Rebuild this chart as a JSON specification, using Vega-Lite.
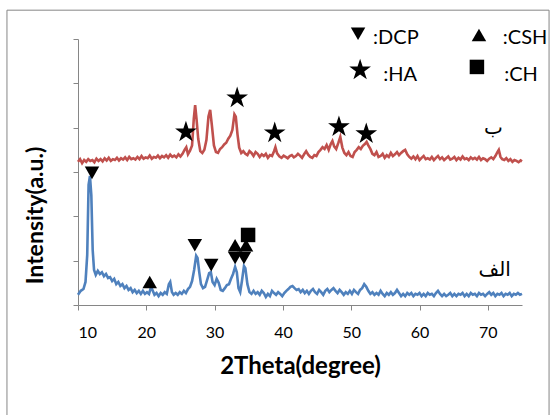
{
  "$schema": "https://vega.github.io/schema/vega-lite/v6.json",
  "width": 444,
  "height": 266,
  "autosize": "none",
  "padding": {"left": 78, "top": 39, "right": 36, "bottom": 110},
  "background": "white",
  "config": {"view": {"stroke": null}, "font": "Lato"},
  "datasets": {
    "sample_alef": [
      {"theta":10.0,"intensity":0.23},{"theta":10.4,"intensity":0.32},{"theta":10.8,"intensity":0.36},{"theta":11.1,"intensity":0.52},{"theta":11.35,"intensity":1.13},{"theta":11.55,"intensity":2.71},{"theta":11.75,"intensity":2.91},{"theta":11.95,"intensity":2.48},{"theta":12.15,"intensity":1.24},{"theta":12.35,"intensity":0.79},{"theta":12.6,"intensity":0.68},{"theta":12.9,"intensity":0.77},{"theta":13.2,"intensity":0.70},{"theta":13.5,"intensity":0.74},{"theta":13.8,"intensity":0.65},{"theta":14.1,"intensity":0.70},{"theta":14.4,"intensity":0.61},{"theta":14.7,"intensity":0.63},{"theta":15.0,"intensity":0.54},{"theta":15.3,"intensity":0.59},{"theta":15.6,"intensity":0.47},{"theta":15.9,"intensity":0.52},{"theta":16.2,"intensity":0.43},{"theta":16.5,"intensity":0.47},{"theta":16.8,"intensity":0.38},{"theta":17.1,"intensity":0.43},{"theta":17.4,"intensity":0.34},{"theta":17.7,"intensity":0.38},{"theta":18.0,"intensity":0.29},{"theta":18.3,"intensity":0.34},{"theta":18.6,"intensity":0.27},{"theta":18.9,"intensity":0.32},{"theta":19.2,"intensity":0.25},{"theta":19.5,"intensity":0.32},{"theta":19.8,"intensity":0.25},{"theta":20.1,"intensity":0.29},{"theta":20.4,"intensity":0.25},{"theta":20.7,"intensity":0.41},{"theta":20.9,"intensity":0.34},{"theta":21.2,"intensity":0.23},{"theta":21.5,"intensity":0.27},{"theta":21.8,"intensity":0.20},{"theta":22.1,"intensity":0.27},{"theta":22.4,"intensity":0.23},{"theta":22.7,"intensity":0.29},{"theta":23.0,"intensity":0.25},{"theta":23.3,"intensity":0.47},{"theta":23.5,"intensity":0.52},{"theta":23.75,"intensity":0.29},{"theta":24.0,"intensity":0.23},{"theta":24.3,"intensity":0.27},{"theta":24.6,"intensity":0.23},{"theta":24.9,"intensity":0.29},{"theta":25.2,"intensity":0.25},{"theta":25.5,"intensity":0.32},{"theta":25.8,"intensity":0.27},{"theta":26.1,"intensity":0.36},{"theta":26.4,"intensity":0.41},{"theta":26.7,"intensity":0.54},{"theta":27.0,"intensity":0.79},{"theta":27.3,"intensity":1.11},{"theta":27.5,"intensity":1.06},{"theta":27.75,"intensity":0.74},{"theta":28.0,"intensity":0.47},{"theta":28.3,"intensity":0.38},{"theta":28.6,"intensity":0.41},{"theta":28.9,"intensity":0.56},{"theta":29.2,"intensity":0.72},{"theta":29.45,"intensity":0.74},{"theta":29.7,"intensity":0.52},{"theta":30.0,"intensity":0.45},{"theta":30.3,"intensity":0.59},{"theta":30.6,"intensity":0.50},{"theta":30.9,"intensity":0.34},{"theta":31.2,"intensity":0.32},{"theta":31.5,"intensity":0.38},{"theta":31.8,"intensity":0.45},{"theta":32.1,"intensity":0.47},{"theta":32.4,"intensity":0.59},{"theta":32.7,"intensity":0.70},{"theta":33.0,"intensity":0.86},{"theta":33.25,"intensity":0.74},{"theta":33.5,"intensity":0.38},{"theta":33.75,"intensity":0.29},{"theta":34.0,"intensity":0.54},{"theta":34.3,"intensity":0.88},{"theta":34.5,"intensity":0.83},{"theta":34.8,"intensity":0.47},{"theta":35.1,"intensity":0.29},{"theta":35.4,"intensity":0.25},{"theta":35.7,"intensity":0.32},{"theta":36.0,"intensity":0.25},{"theta":36.3,"intensity":0.29},{"theta":36.6,"intensity":0.23},{"theta":36.9,"intensity":0.32},{"theta":37.2,"intensity":0.27},{"theta":37.5,"intensity":0.18},{"theta":37.8,"intensity":0.25},{"theta":38.1,"intensity":0.20},{"theta":38.4,"intensity":0.32},{"theta":38.7,"intensity":0.27},{"theta":39.0,"intensity":0.23},{"theta":39.3,"intensity":0.29},{"theta":39.6,"intensity":0.25},{"theta":39.9,"intensity":0.20},{"theta":40.2,"intensity":0.27},{"theta":40.5,"intensity":0.32},{"theta":40.8,"intensity":0.36},{"theta":41.1,"intensity":0.41},{"theta":41.4,"intensity":0.43},{"theta":41.7,"intensity":0.38},{"theta":42.0,"intensity":0.34},{"theta":42.3,"intensity":0.36},{"theta":42.6,"intensity":0.29},{"theta":42.9,"intensity":0.34},{"theta":43.2,"intensity":0.27},{"theta":43.5,"intensity":0.32},{"theta":43.8,"intensity":0.25},{"theta":44.1,"intensity":0.32},{"theta":44.4,"intensity":0.36},{"theta":44.7,"intensity":0.29},{"theta":45.0,"intensity":0.25},{"theta":45.3,"intensity":0.34},{"theta":45.6,"intensity":0.29},{"theta":45.9,"intensity":0.23},{"theta":46.2,"intensity":0.32},{"theta":46.5,"intensity":0.36},{"theta":46.8,"intensity":0.29},{"theta":47.1,"intensity":0.34},{"theta":47.4,"intensity":0.38},{"theta":47.7,"intensity":0.32},{"theta":48.0,"intensity":0.27},{"theta":48.3,"intensity":0.34},{"theta":48.6,"intensity":0.29},{"theta":48.9,"intensity":0.23},{"theta":49.2,"intensity":0.29},{"theta":49.5,"intensity":0.25},{"theta":49.8,"intensity":0.32},{"theta":50.1,"intensity":0.25},{"theta":50.4,"intensity":0.34},{"theta":50.7,"intensity":0.29},{"theta":51.0,"intensity":0.25},{"theta":51.3,"intensity":0.34},{"theta":51.6,"intensity":0.38},{"theta":51.9,"intensity":0.47},{"theta":52.2,"intensity":0.41},{"theta":52.5,"intensity":0.32},{"theta":52.8,"intensity":0.25},{"theta":53.1,"intensity":0.29},{"theta":53.4,"intensity":0.23},{"theta":53.7,"intensity":0.27},{"theta":54.0,"intensity":0.23},{"theta":54.3,"intensity":0.32},{"theta":54.6,"intensity":0.25},{"theta":54.9,"intensity":0.20},{"theta":55.2,"intensity":0.27},{"theta":55.5,"intensity":0.23},{"theta":55.8,"intensity":0.29},{"theta":56.1,"intensity":0.23},{"theta":56.4,"intensity":0.27},{"theta":56.7,"intensity":0.34},{"theta":57.0,"intensity":0.27},{"theta":57.3,"intensity":0.20},{"theta":57.6,"intensity":0.25},{"theta":57.9,"intensity":0.20},{"theta":58.2,"intensity":0.27},{"theta":58.5,"intensity":0.23},{"theta":58.8,"intensity":0.27},{"theta":59.1,"intensity":0.20},{"theta":59.4,"intensity":0.25},{"theta":59.7,"intensity":0.23},{"theta":60.0,"intensity":0.27},{"theta":60.3,"intensity":0.20},{"theta":60.6,"intensity":0.25},{"theta":60.9,"intensity":0.20},{"theta":61.2,"intensity":0.27},{"theta":61.5,"intensity":0.23},{"theta":61.8,"intensity":0.25},{"theta":62.1,"intensity":0.20},{"theta":62.4,"intensity":0.27},{"theta":62.7,"intensity":0.32},{"theta":63.0,"intensity":0.25},{"theta":63.3,"intensity":0.20},{"theta":63.6,"intensity":0.25},{"theta":63.9,"intensity":0.20},{"theta":64.2,"intensity":0.23},{"theta":64.5,"intensity":0.27},{"theta":64.8,"intensity":0.20},{"theta":65.1,"intensity":0.25},{"theta":65.4,"intensity":0.20},{"theta":65.7,"intensity":0.25},{"theta":66.0,"intensity":0.23},{"theta":66.3,"intensity":0.27},{"theta":66.6,"intensity":0.20},{"theta":66.9,"intensity":0.25},{"theta":67.2,"intensity":0.20},{"theta":67.5,"intensity":0.27},{"theta":67.8,"intensity":0.23},{"theta":68.1,"intensity":0.25},{"theta":68.4,"intensity":0.20},{"theta":68.7,"intensity":0.27},{"theta":69.0,"intensity":0.23},{"theta":69.3,"intensity":0.25},{"theta":69.6,"intensity":0.20},{"theta":69.9,"intensity":0.25},{"theta":70.2,"intensity":0.29},{"theta":70.5,"intensity":0.23},{"theta":70.8,"intensity":0.27},{"theta":71.1,"intensity":0.20},{"theta":71.4,"intensity":0.25},{"theta":71.7,"intensity":0.23},{"theta":72.0,"intensity":0.27},{"theta":72.3,"intensity":0.20},{"theta":72.6,"intensity":0.25},{"theta":72.9,"intensity":0.23},{"theta":73.2,"intensity":0.27},{"theta":73.5,"intensity":0.20},{"theta":73.8,"intensity":0.25},{"theta":74.1,"intensity":0.23},{"theta":74.4,"intensity":0.27},{"theta":74.7,"intensity":0.23},{"theta":75.0,"intensity":0.25}
    ],
    "sample_be": [
      {"theta":10.0,"intensity":3.23},{"theta":10.3,"intensity":3.29},{"theta":10.6,"intensity":3.20},{"theta":10.9,"intensity":3.27},{"theta":11.2,"intensity":3.23},{"theta":11.5,"intensity":3.29},{"theta":11.8,"intensity":3.25},{"theta":12.1,"intensity":3.27},{"theta":12.4,"intensity":3.22},{"theta":12.7,"intensity":3.30},{"theta":13.0,"intensity":3.25},{"theta":13.3,"intensity":3.29},{"theta":13.6,"intensity":3.24},{"theta":13.9,"intensity":3.31},{"theta":14.2,"intensity":3.26},{"theta":14.5,"intensity":3.32},{"theta":14.8,"intensity":3.25},{"theta":15.1,"intensity":3.29},{"theta":15.4,"intensity":3.27},{"theta":15.7,"intensity":3.32},{"theta":16.0,"intensity":3.26},{"theta":16.3,"intensity":3.31},{"theta":16.6,"intensity":3.28},{"theta":16.9,"intensity":3.33},{"theta":17.2,"intensity":3.27},{"theta":17.5,"intensity":3.34},{"theta":17.8,"intensity":3.29},{"theta":18.1,"intensity":3.31},{"theta":18.4,"intensity":3.28},{"theta":18.7,"intensity":3.34},{"theta":19.0,"intensity":3.29},{"theta":19.3,"intensity":3.36},{"theta":19.6,"intensity":3.30},{"theta":19.9,"intensity":3.33},{"theta":20.2,"intensity":3.31},{"theta":20.5,"intensity":3.37},{"theta":20.8,"intensity":3.30},{"theta":21.1,"intensity":3.34},{"theta":21.4,"intensity":3.32},{"theta":21.7,"intensity":3.37},{"theta":22.0,"intensity":3.31},{"theta":22.3,"intensity":3.36},{"theta":22.6,"intensity":3.33},{"theta":22.9,"intensity":3.38},{"theta":23.2,"intensity":3.32},{"theta":23.5,"intensity":3.39},{"theta":23.8,"intensity":3.34},{"theta":24.1,"intensity":3.37},{"theta":24.4,"intensity":3.33},{"theta":24.7,"intensity":3.40},{"theta":25.0,"intensity":3.35},{"theta":25.3,"intensity":3.41},{"theta":25.6,"intensity":3.50},{"theta":25.85,"intensity":3.56},{"theta":26.1,"intensity":3.40},{"theta":26.4,"intensity":3.48},{"theta":26.7,"intensity":3.60},{"theta":26.95,"intensity":4.20},{"theta":27.15,"intensity":4.51},{"theta":27.35,"intensity":4.20},{"theta":27.6,"intensity":3.75},{"theta":27.9,"intensity":3.47},{"theta":28.2,"intensity":3.43},{"theta":28.5,"intensity":3.50},{"theta":28.8,"intensity":3.72},{"theta":29.1,"intensity":4.25},{"theta":29.35,"intensity":4.40},{"theta":29.6,"intensity":4.05},{"theta":29.9,"intensity":3.60},{"theta":30.2,"intensity":3.45},{"theta":30.5,"intensity":3.43},{"theta":30.8,"intensity":3.52},{"theta":31.1,"intensity":3.56},{"theta":31.4,"intensity":3.62},{"theta":31.7,"intensity":3.66},{"theta":32.0,"intensity":3.75},{"theta":32.3,"intensity":3.82},{"theta":32.6,"intensity":3.95},{"theta":32.9,"intensity":4.30},{"theta":33.1,"intensity":4.25},{"theta":33.35,"intensity":3.85},{"theta":33.6,"intensity":3.55},{"theta":33.9,"intensity":3.43},{"theta":34.2,"intensity":3.47},{"theta":34.5,"intensity":3.41},{"theta":34.8,"intensity":3.38},{"theta":35.1,"intensity":3.47},{"theta":35.4,"intensity":3.43},{"theta":35.7,"intensity":3.36},{"theta":36.0,"intensity":3.45},{"theta":36.3,"intensity":3.41},{"theta":36.6,"intensity":3.34},{"theta":36.9,"intensity":3.40},{"theta":37.2,"intensity":3.36},{"theta":37.5,"intensity":3.41},{"theta":37.8,"intensity":3.32},{"theta":38.1,"intensity":3.38},{"theta":38.4,"intensity":3.36},{"theta":38.7,"intensity":3.47},{"theta":38.9,"intensity":3.56},{"theta":39.15,"intensity":3.42},{"theta":39.5,"intensity":3.35},{"theta":39.8,"intensity":3.32},{"theta":40.1,"intensity":3.37},{"theta":40.4,"intensity":3.34},{"theta":40.7,"intensity":3.31},{"theta":41.0,"intensity":3.36},{"theta":41.3,"intensity":3.38},{"theta":41.6,"intensity":3.33},{"theta":41.9,"intensity":3.36},{"theta":42.2,"intensity":3.41},{"theta":42.5,"intensity":3.37},{"theta":42.8,"intensity":3.32},{"theta":43.1,"intensity":3.40},{"theta":43.4,"intensity":3.47},{"theta":43.7,"intensity":3.39},{"theta":44.0,"intensity":3.34},{"theta":44.3,"intensity":3.32},{"theta":44.6,"intensity":3.38},{"theta":44.9,"intensity":3.36},{"theta":45.2,"intensity":3.45},{"theta":45.5,"intensity":3.50},{"theta":45.8,"intensity":3.56},{"theta":46.1,"intensity":3.52},{"theta":46.4,"intensity":3.61},{"theta":46.7,"intensity":3.50},{"theta":47.0,"intensity":3.63},{"theta":47.25,"intensity":3.70},{"theta":47.5,"intensity":3.58},{"theta":47.8,"intensity":3.52},{"theta":48.1,"intensity":3.65},{"theta":48.4,"intensity":3.79},{"theta":48.7,"intensity":3.55},{"theta":49.0,"intensity":3.43},{"theta":49.3,"intensity":3.38},{"theta":49.6,"intensity":3.45},{"theta":49.9,"intensity":3.36},{"theta":50.2,"intensity":3.34},{"theta":50.5,"intensity":3.45},{"theta":50.8,"intensity":3.50},{"theta":51.1,"intensity":3.56},{"theta":51.4,"intensity":3.52},{"theta":51.7,"intensity":3.59},{"theta":52.0,"intensity":3.63},{"theta":52.25,"intensity":3.68},{"theta":52.5,"intensity":3.60},{"theta":52.8,"intensity":3.52},{"theta":53.1,"intensity":3.41},{"theta":53.4,"intensity":3.38},{"theta":53.7,"intensity":3.45},{"theta":54.0,"intensity":3.34},{"theta":54.3,"intensity":3.36},{"theta":54.6,"intensity":3.41},{"theta":54.9,"intensity":3.32},{"theta":55.2,"intensity":3.38},{"theta":55.5,"intensity":3.34},{"theta":55.8,"intensity":3.43},{"theta":56.1,"intensity":3.36},{"theta":56.4,"intensity":3.40},{"theta":56.7,"intensity":3.45},{"theta":57.0,"intensity":3.38},{"theta":57.3,"intensity":3.43},{"theta":57.6,"intensity":3.47},{"theta":57.9,"intensity":3.50},{"theta":58.2,"intensity":3.40},{"theta":58.5,"intensity":3.34},{"theta":58.8,"intensity":3.30},{"theta":59.1,"intensity":3.35},{"theta":59.4,"intensity":3.29},{"theta":59.7,"intensity":3.36},{"theta":60.0,"intensity":3.27},{"theta":60.3,"intensity":3.32},{"theta":60.6,"intensity":3.36},{"theta":60.9,"intensity":3.29},{"theta":61.2,"intensity":3.31},{"theta":61.5,"intensity":3.28},{"theta":61.8,"intensity":3.34},{"theta":62.1,"intensity":3.27},{"theta":62.4,"intensity":3.32},{"theta":62.7,"intensity":3.36},{"theta":63.0,"intensity":3.29},{"theta":63.3,"intensity":3.33},{"theta":63.6,"intensity":3.27},{"theta":63.9,"intensity":3.31},{"theta":64.2,"intensity":3.35},{"theta":64.5,"intensity":3.28},{"theta":64.8,"intensity":3.30},{"theta":65.1,"intensity":3.34},{"theta":65.4,"intensity":3.27},{"theta":65.7,"intensity":3.32},{"theta":66.0,"intensity":3.28},{"theta":66.3,"intensity":3.35},{"theta":66.6,"intensity":3.29},{"theta":66.9,"intensity":3.31},{"theta":67.2,"intensity":3.27},{"theta":67.5,"intensity":3.33},{"theta":67.8,"intensity":3.29},{"theta":68.1,"intensity":3.32},{"theta":68.4,"intensity":3.28},{"theta":68.7,"intensity":3.34},{"theta":69.0,"intensity":3.27},{"theta":69.3,"intensity":3.31},{"theta":69.6,"intensity":3.29},{"theta":69.9,"intensity":3.25},{"theta":70.2,"intensity":3.30},{"theta":70.5,"intensity":3.33},{"theta":70.8,"intensity":3.29},{"theta":71.1,"intensity":3.36},{"theta":71.4,"intensity":3.45},{"theta":71.6,"intensity":3.50},{"theta":71.85,"intensity":3.34},{"theta":72.1,"intensity":3.29},{"theta":72.4,"intensity":3.27},{"theta":72.7,"intensity":3.31},{"theta":73.0,"intensity":3.25},{"theta":73.3,"intensity":3.29},{"theta":73.6,"intensity":3.23},{"theta":73.9,"intensity":3.27},{"theta":74.2,"intensity":3.25},{"theta":74.5,"intensity":3.22},{"theta":74.8,"intensity":3.26},{"theta":75.0,"intensity":3.24}
    ],
    "markers": [
      {"theta":12.05,"intensity":2.98,"phase":"DCP"},
      {"theta":27.1,"intensity":1.35,"phase":"DCP"},
      {"theta":29.5,"intensity":0.90,"phase":"DCP"},
      {"theta":33.0,"intensity":1.06,"phase":"DCP"},
      {"theta":34.3,"intensity":1.06,"phase":"DCP"},
      {"theta":20.5,"intensity":0.52,"phase":"CSH"},
      {"theta":33.0,"intensity":1.35,"phase":"CSH"},
      {"theta":34.6,"intensity":1.35,"phase":"CSH"},
      {"theta":34.9,"intensity":1.58,"phase":"CH"},
      {"theta":51.0,"intensity":6.12,"phase":"DCP"},
      {"theta":68.7,"intensity":6.09,"phase":"CSH"},
      {"theta":68.4,"intensity":5.37,"phase":"CH"}
    ],
    "stars": [
      {"theta":25.8,"intensity":3.90},
      {"theta":33.3,"intensity":4.67},
      {"theta":38.8,"intensity":3.88},
      {"theta":48.2,"intensity":4.02},
      {"theta":52.2,"intensity":3.86},
      {"theta":51.3,"intensity":5.30}
    ],
    "key": [
      {"label":":DCP","ltheta":53.2,"lintensity":6.02},
      {"label":":CSH","ltheta":72.2,"lintensity":6.02},
      {"label":":HA","ltheta":54.7,"lintensity":5.19},
      {"label":":CH","ltheta":72.4,"lintensity":5.19}
    ],
    "names": [
      {"theta":70.8,"intensity":3.99,"label":"ب"},
      {"theta":71.0,"intensity":0.79,"label":"الف"}
    ],
    "frame": [
      {"x0":-0.4,"x1":78.96,"y0":6.65,"y1":-2.7}
    ]
  },
  "encoding": {
    "x": {"field":"theta","type":"quantitative","scale":{"domain":[10,75],"nice":false,"zero":false},
      "axis":{"values":[10,20,30,40,50,60,70],"grid":false,"title":"2Theta(degree)","domainColor":"#868686","tickColor":"#868686","tickSize":5,"labelFontSize":16,"labelColor":"#000","labelFont":"Lato","labelPadding":14,"titleFont":"Lato","titleFontSize":24,"titleFontWeight":"bold","titleColor":"#000","titlePadding":14}},
    "y": {"field":"intensity","type":"quantitative","scale":{"domain":[0,6],"nice":false},
      "axis":{"values":[0,1,2,3,4,5,6],"grid":false,"labels":false,"title":"Intensity(a.u.)","domainColor":"#868686","tickColor":"#868686","tickSize":5,"titleFont":"Lato","titleFontSize":23,"titleFontWeight":"bold","titleColor":"#000","titleX":-43,"titleY":176,"titleAngle":-90,"titleAlign":"center","titleBaseline":"middle"}}
  },
  "layer": [
    {"data":{"name":"frame"},"mark":{"type":"rect","fill":"transparent","stroke":"#868686","strokeWidth":1,"clip":false},
     "encoding":{"x":{"field":"x0","type":"quantitative"},"x2":{"field":"x1"},"y":{"field":"y0","type":"quantitative"},"y2":{"field":"y1"}}},
    {"data":{"name":"sample_alef"},"mark":{"type":"line","color":"#4F81BD","strokeWidth":2.6}},
    {"data":{"name":"sample_be"},"mark":{"type":"line","color":"#C0504D","strokeWidth":2.6}},
    {"data":{"name":"markers"},"mark":{"type":"point","filled":true,"color":"#000","opacity":1,"size":210},
     "encoding":{"shape":{"field":"phase","type":"nominal","scale":{"domain":["DCP","CSH","CH"],"range":["triangle-down","triangle-up","square"]},"legend":null}}},
    {"data":{"name":"stars"},"mark":{"type":"point","filled":true,"color":"#000","opacity":1,"size":520,"shape":"M0,-1L0.2245,-0.309L0.951,-0.309L0.363,0.118L0.588,0.809L0,0.382L-0.588,0.809L-0.363,0.118L-0.951,-0.309L-0.2245,-0.309Z"}},
    {"data":{"name":"key"},"mark":{"type":"text","align":"left","baseline":"middle","fontSize":20,"font":"Lato","color":"#000"},
     "encoding":{"x":{"field":"ltheta","type":"quantitative"},"y":{"field":"lintensity","type":"quantitative"},"text":{"field":"label"}}},
    {"data":{"name":"names"},"mark":{"type":"text","align":"center","baseline":"middle","fontSize":20,"font":"DejaVu Sans","color":"#000"},
     "encoding":{"text":{"field":"label"}}}
  ]
}
